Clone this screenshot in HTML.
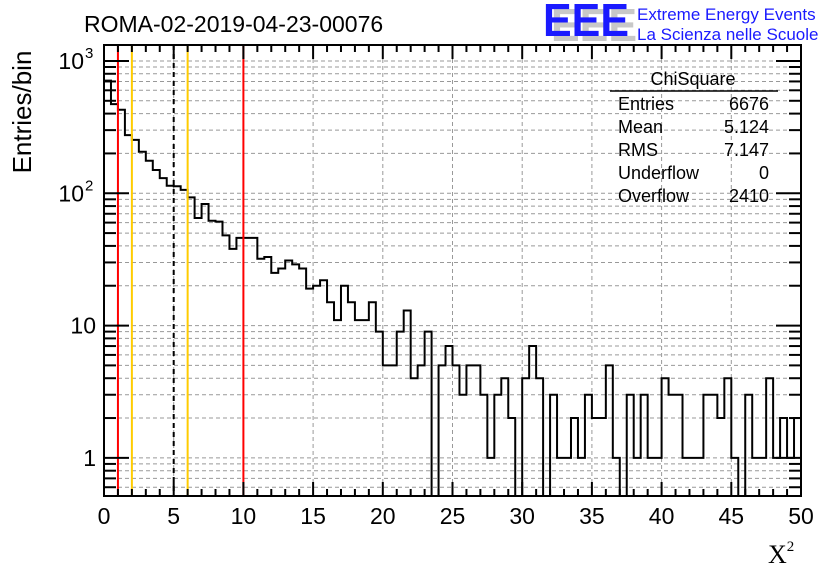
<!DOCTYPE html>
<html><head><meta charset="utf-8"><style>
body{margin:0;background:#fff;}
svg{display:block;font-family:"Liberation Sans",Arial,sans-serif;}
</style></head><body>
<svg id="c" width="836" height="572" xmlns="http://www.w3.org/2000/svg">
<rect width="836" height="572" fill="#fff"/>
<g id="grid"></g>
<g id="marks"></g>
<g id="axes"></g>
<text x="84" y="32" font-size="23">ROMA-02-2019-04-23-00076</text>
<g>
<text x="551" y="41" font-size="46" font-weight="bold" fill="#c8c8c8" textLength="86" lengthAdjust="spacingAndGlyphs">EEE</text>
<text x="543" y="36" font-size="46" font-weight="bold" fill="#1a1aff" textLength="86" lengthAdjust="spacingAndGlyphs">EEE</text>
<text x="637" y="20" font-size="17" fill="#1a1aff">Extreme Energy Events</text>
<text x="637" y="40" font-size="17" fill="#1a1aff">La Scienza nelle Scuole</text>
</g>
<text transform="translate(31,112) rotate(-90)" text-anchor="middle" font-size="26">Entries/bin</text>
<text x="768" y="563" font-size="26" font-family="Liberation Serif,serif">X<tspan font-size="15" dy="-12">2</tspan></text>
<g font-size="18">
<text x="693" y="85" text-anchor="middle">ChiSquare</text>
<line x1="610" y1="91" x2="778" y2="91" stroke="#000" stroke-width="1.5"/>
<text x="618" y="110">Entries</text><text x="769" y="110" text-anchor="end">6676</text>
<text x="618" y="133">Mean</text><text x="769" y="133" text-anchor="end">5.124</text>
<text x="618" y="156">RMS</text><text x="769" y="156" text-anchor="end">7.147</text>
<text x="618" y="179">Underflow</text><text x="769" y="179" text-anchor="end">0</text>
<text x="618" y="202">Overflow</text><text x="769" y="202" text-anchor="end">2410</text>
</g>
</svg>
<script>
const counts=[710,472,428,275,253,206,176,150,130,114,113,106,93,65,83,62,61,48,38,46,46,46,32,33,25,27,31,29,27,19,20,22,15,11,20,15,11,11,15,9,5,5,9,13,4,5,9,0,5,7,5,3,5,5,3,1,3,4,2,0,4,7,4,0,3,1,1,2,1,3,2,2,5,1,0,3,1,3,1,1,4,3,3,1,1,1,3,3,2,4,1,0,3,1,1,4,1,2,1,2];
const xTicks=[0,5,10,15,20,25,30,35,40,45,50];
const yDecades=[1,10,100,1000];
const yBase=["1","10","10","10"];
const yExp=["","","2","3"];
const redLines=[1,10], orangeLines=[2,6], dashedLines=[5];
const binWidth=0.5;
const L=104,R=801,T=45,B=496,xmin=0,xmax=50,ymin=Math.log10(0.515),ymax=Math.log10(1320);
const X=v=>L+(v-xmin)/(xmax-xmin)*(R-L);
const Y=v=>B-(Math.log10(v)-ymin)/(ymax-ymin)*(B-T);
const NS="http://www.w3.org/2000/svg";
function mk(p,t,a){const e=document.createElementNS(NS,t);for(const k in a)e.setAttribute(k,a[k]);p.appendChild(e);return e;}
const grid=document.getElementById('grid'),marks=document.getElementById('marks'),axes=document.getElementById('axes');
for(const d of [0.1,1,10,100,1000])for(let m=1;m<10;m++){const v=d*m;if(v<0.515||v>1320)continue;
 const l=mk(grid,'line',{x1:L,x2:R,y1:Y(v),y2:Y(v),stroke:'#999','stroke-dasharray':'4,3','stroke-width':1});
 }
for(const t of xTicks){if(t===0||t===50)continue;const l=mk(grid,'line',{x1:X(t),x2:X(t),y1:T,y2:B,stroke:'#999','stroke-dasharray':'4,3','stroke-width':1});
 }
let d='';const floor=B+5;
counts.forEach((c,i)=>{const x0=X(i*binWidth),x1=X((i+1)*binWidth);const y=c>0?Y(c):floor;
 if(i===0)d+=`M${x0},${y}`;else d+=`L${x0},${y}`;d+=`L${x1},${y}`;});
const h=mk(marks,'path',{d:d,fill:'none',stroke:'#000','stroke-width':2});

const clip=mk(marks,'clipPath',{id:'cp'});mk(clip,'rect',{x:L,y:T,width:R-L,height:B-T});h.setAttribute('clip-path','url(#cp)');
for(const v of redLines){const l=mk(marks,'line',{x1:X(v),x2:X(v),y1:T,y2:B,stroke:'#ff0000','stroke-width':2});}
for(const v of orangeLines){const l=mk(marks,'line',{x1:X(v),x2:X(v),y1:T,y2:B,stroke:'#ffcc00','stroke-width':2});}
for(const v of dashedLines){const l=mk(marks,'line',{x1:X(v),x2:X(v),y1:T,y2:B,stroke:'#000','stroke-width':2,'stroke-dasharray':'5,4'});}
const f=mk(axes,'rect',{x:L,y:T,width:R-L,height:B-T,fill:'none',stroke:'#000','stroke-width':2});

for(let t=0;t<=50;t+=1){const maj=t%5===0,len=maj?14:7;
 mk(axes,'line',{x1:X(t),x2:X(t),y1:B,y2:B-len,stroke:'#000','stroke-width':2});
 mk(axes,'line',{x1:X(t),x2:X(t),y1:T,y2:T+len,stroke:'#000','stroke-width':2});}
xTicks.forEach(t=>{const e=mk(axes,'text',{x:X(t),y:524,'text-anchor':'middle','font-size':23});e.textContent=t;
 });
for(const dd of [0.1,1,10,100,1000])for(let m=1;m<10;m++){const v=dd*m;if(v<0.515||v>1320)continue;const len=m===1?25:12;
 mk(axes,'line',{x1:L,x2:L+len,y1:Y(v),y2:Y(v),stroke:'#000','stroke-width':2});
 mk(axes,'line',{x1:R,x2:R-len,y1:Y(v),y2:Y(v),stroke:'#000','stroke-width':2});}
yDecades.forEach((v,i)=>{const e=mk(axes,'text',{x:yExp[i]?84:96,y:Y(v)+8,'text-anchor':'end','font-size':23});
 e.textContent=yBase[i];
 
 if(yExp[i]){const s=mk(axes,'text',{x:85,y:Y(v)-3,'font-size':15});s.textContent=yExp[i];
  }});
</script>
</body></html>
